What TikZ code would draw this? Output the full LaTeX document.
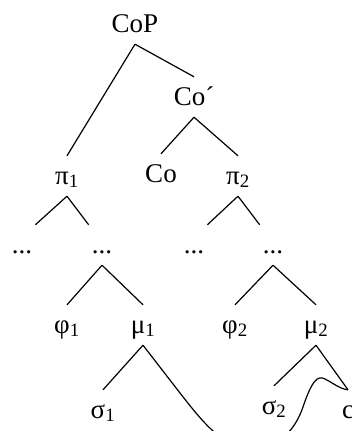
\documentclass[tikz,border=0pt]{standalone}
\usepackage{fontspec}
\setmainfont{Liberation Serif}
\usetikzlibrary{positioning}

\begin{document}
\begin{tikzpicture}[on grid,
    lbl/.style={font=\fontsize{27}{30}\selectfont, text height=22pt, text depth=6pt,
                inner xsep=3pt, inner ysep=6pt},
    branch/.style={line width=1.2pt}]
        \useasboundingbox (0,0) rectangle (351pt,-431pt);
        \clip (0,0) rectangle (351pt,-431pt);

        \node[lbl] (cop) at (135pt,-24pt) {CoP};
        \node[lbl] (coe) [below right=73pt and 59pt of cop] {Co´};
        \node[lbl] (pi1) [below left=152pt and 68pt of cop] {π\textsubscript{1}};
        \node[lbl] (co) [below left=77pt and 33pt of coe] {Co};
        \node[lbl] (pi2) [below right=79pt and 44pt of coe] {π\textsubscript{2}};

        \node[lbl] (d1) [below left=69pt and 45pt of pi1] {...};
        \node[lbl] (d2) [below right=69pt and 35pt of pi1] {...};
        \node[lbl] (d3) [below left=69pt and 44pt of pi2] {...};
        \node[lbl] (d4) [below right=69pt and 35pt of pi2] {...};

        \node[lbl] (phi1) [below left=80pt and 35pt of d2] {φ\textsubscript{1}};
        \node[lbl] (mu1) [below right=80pt and 41pt of d2] {μ\textsubscript{1}};
        \node[lbl] (phi2) [below left=80pt and 38pt of d4] {φ\textsubscript{2}};
        \node[lbl] (mu2) [below right=80pt and 43pt of d4] {μ\textsubscript{2}};

        \node[lbl] (sig1) [below left=85pt and 40pt of mu1] {σ\textsubscript{1}};
        \node[lbl] (sig2) [below left=81pt and 42pt of mu2] {σ\textsubscript{2}};
        \node[lbl] (c) [below right=85pt and 32pt of mu2] {c};
        \coordinate[below right=68pt and 37pt of mu1] (m1r);

        \draw[branch]
        (cop.south) -- (pi1.north)
        (cop.south) -- (coe.north)
        (coe.south) -- (co.north)
        (coe.south) -- (pi2.north)
        (pi1.south) -- (d1.north east)
        (pi1.south) -- (d2.north west)
        (pi2.south) -- (d3.north east)
        (pi2.south) -- (d4.north west)
        (d2.south) -- (phi1.north)
        (d2.south) -- (mu1.north)
        (d4.south) -- (phi2.north)
        (d4.south) -- (mu2.north)
        (mu1.south) -- (sig1.north)
        (mu2.south) -- (sig2.north)
        (mu2.south) -- (c.north);

        % wavy line under the tree
        \draw[branch] (mu1.south) -- (m1r)
            .. controls (205pt,-425pt) and (225pt,-450pt) .. (255pt,-448pt)
            .. controls (280pt,-446pt) and (295pt,-430pt) .. (303pt,-407pt)
            .. controls (312pt,-380pt) and (318pt,-375pt) .. (325pt,-379pt)
            .. controls (333pt,-383pt) and (340pt,-389pt) .. (c.north);
\end{tikzpicture}
\end{document}
